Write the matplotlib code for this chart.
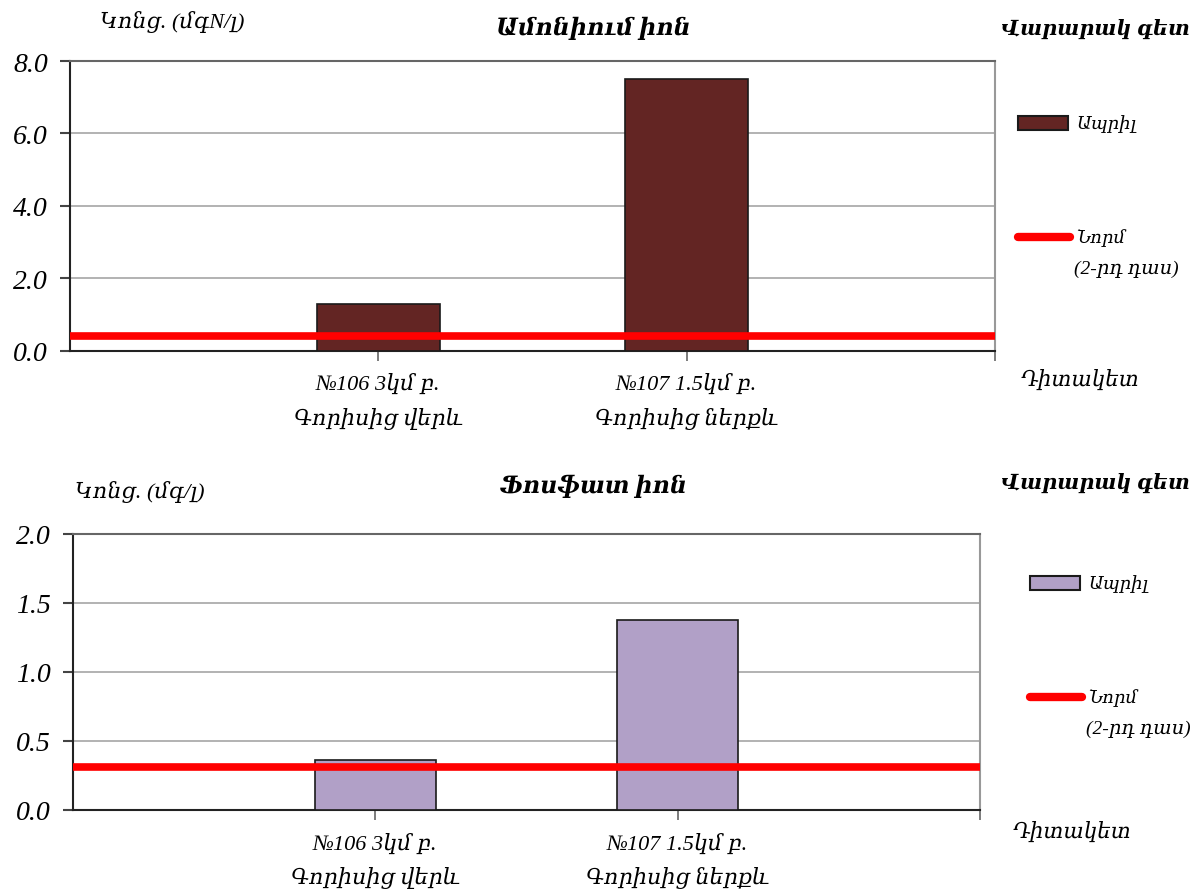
import matplotlib
matplotlib.use("Agg")
import matplotlib.pyplot as plt
from matplotlib.patches import Rectangle
from matplotlib.lines import Line2D

plt.rcParams['font.family'] = ['Liberation Serif', 'DejaVu Serif', 'DejaVu Sans']

# ---- data ----
categories = ["№106 3կմ բ.\nԳորիսից վերև", "№107 1.5կմ բ.\nԳորիսից ներքև"]
ammonium_april = [1.28, 7.49]
ammonium_norm = 0.40
phosphate_april = [0.36, 1.38]
phosphate_norm = 0.31
ammonium_yticks = [0.0, 2.0, 4.0, 6.0, 8.0]
phosphate_yticks = [0.0, 0.5, 1.0, 1.5, 2.0]

W, H = 1195, 895
fig = plt.figure(figsize=(W / 100, H / 100), dpi=100)


def fx(px):
    return px / W


def fy(py):
    return 1 - py / H


def make_panel(rect, values, norm, yticks, color, title, ylabel, ylab_pos, title_y,
               leg_x, leg_y1, leg_y2, river_y, point_pos):
    l, r, b, t = rect
    ax = fig.add_axes([fx(l), fy(b), fx(r) - fx(l), fy(t) - fy(b)])
    xs = list(range(1, len(values) + 1))
    ax.bar(xs, values, width=0.4, color=color, edgecolor='#1a1a1a', linewidth=1.2, zorder=3)
    ax.axhline(norm, color='#ff0000', linewidth=5.5, zorder=4, solid_capstyle='butt')
    ax.set_xlim(0, 3)
    ax.set_ylim(yticks[0], yticks[-1])
    ax.set_yticks(yticks)
    ax.set_yticklabels([f"{v:.1f}" for v in yticks], fontsize=20, style='italic')
    ax.set_xticks([1, 2, 3])
    ax.set_xticklabels(categories + [""], fontsize=16, style='italic', linespacing=1.75)
    for y in yticks[1:-1]:
        ax.axhline(y, color='#a6a6a6', linewidth=1.2, zorder=1)
    ax.spines['left'].set_color('#222222')
    ax.spines['bottom'].set_color('#222222')
    ax.spines['top'].set_color('#666666')
    ax.spines['right'].set_color('#999999')
    for s in ax.spines.values():
        s.set_linewidth(1.5)
    ax.tick_params(axis='y', direction='out', length=7, width=1.5, color='#444444', pad=9)
    ax.tick_params(axis='x', direction='out', length=7, width=1.2, color='#666666', pad=9)

    # header texts
    fig.text(fx(ylab_pos[0]), fy(ylab_pos[1]), ylabel, fontsize=16, style='italic',
             ha='left', va='center')
    fig.text(fx(593), fy(title_y), title, fontsize=17,
             style='italic', weight='bold', ha='center', va='center')
    fig.text(fx(1095), fy(river_y), "Վարարակ գետ", fontsize=15, style='italic',
             weight='bold', ha='center', va='center')
    fig.text(fx(point_pos[0]), fy(point_pos[1]), "Դիտակետ", fontsize=15.5,
             style='italic', ha='center', va='center')

    # legend
    fig.add_artist(Rectangle((fx(leg_x), fy(leg_y1 + 7)), fx(50), fy(0) - fy(14),
                             transform=fig.transFigure, facecolor=color,
                             edgecolor='#1a1a1a', linewidth=1.5))
    fig.text(fx(leg_x + 58), fy(leg_y1), "Ապրիլ", fontsize=13, style='italic',
             ha='left', va='center')
    fig.add_artist(Line2D([fx(leg_x), fx(leg_x + 52)], [fy(leg_y2), fy(leg_y2)],
                          transform=fig.transFigure, color='#ff0000', linewidth=6,
                          solid_capstyle='round'))
    fig.text(fx(leg_x + 58), fy(leg_y2), "Նորմ", fontsize=13, style='italic',
             ha='left', va='center')
    fig.text(fx(leg_x + 56), fy(leg_y2 + 31), "(2-րդ դաս)", fontsize=14, style='italic',
             ha='left', va='center')
    return ax


make_panel((70, 995, 351.7, 62), ammonium_april, ammonium_norm, ammonium_yticks,
           '#632523', "Ամոնիում իոն", "Կոնց. (մգN/լ)", (100, 22), 28,
           1018, 124, 238, 30, (1080, 380))

make_panel((73, 980, 811, 535), phosphate_april, phosphate_norm, phosphate_yticks,
           '#b1a0c7', "Ֆոսֆատ իոն", "Կոնց. (մգ/լ)", (75, 492), 486,
           1030, 584, 698, 484, (1072, 832))

fig.savefig("out.png", dpi=100, facecolor='white')
